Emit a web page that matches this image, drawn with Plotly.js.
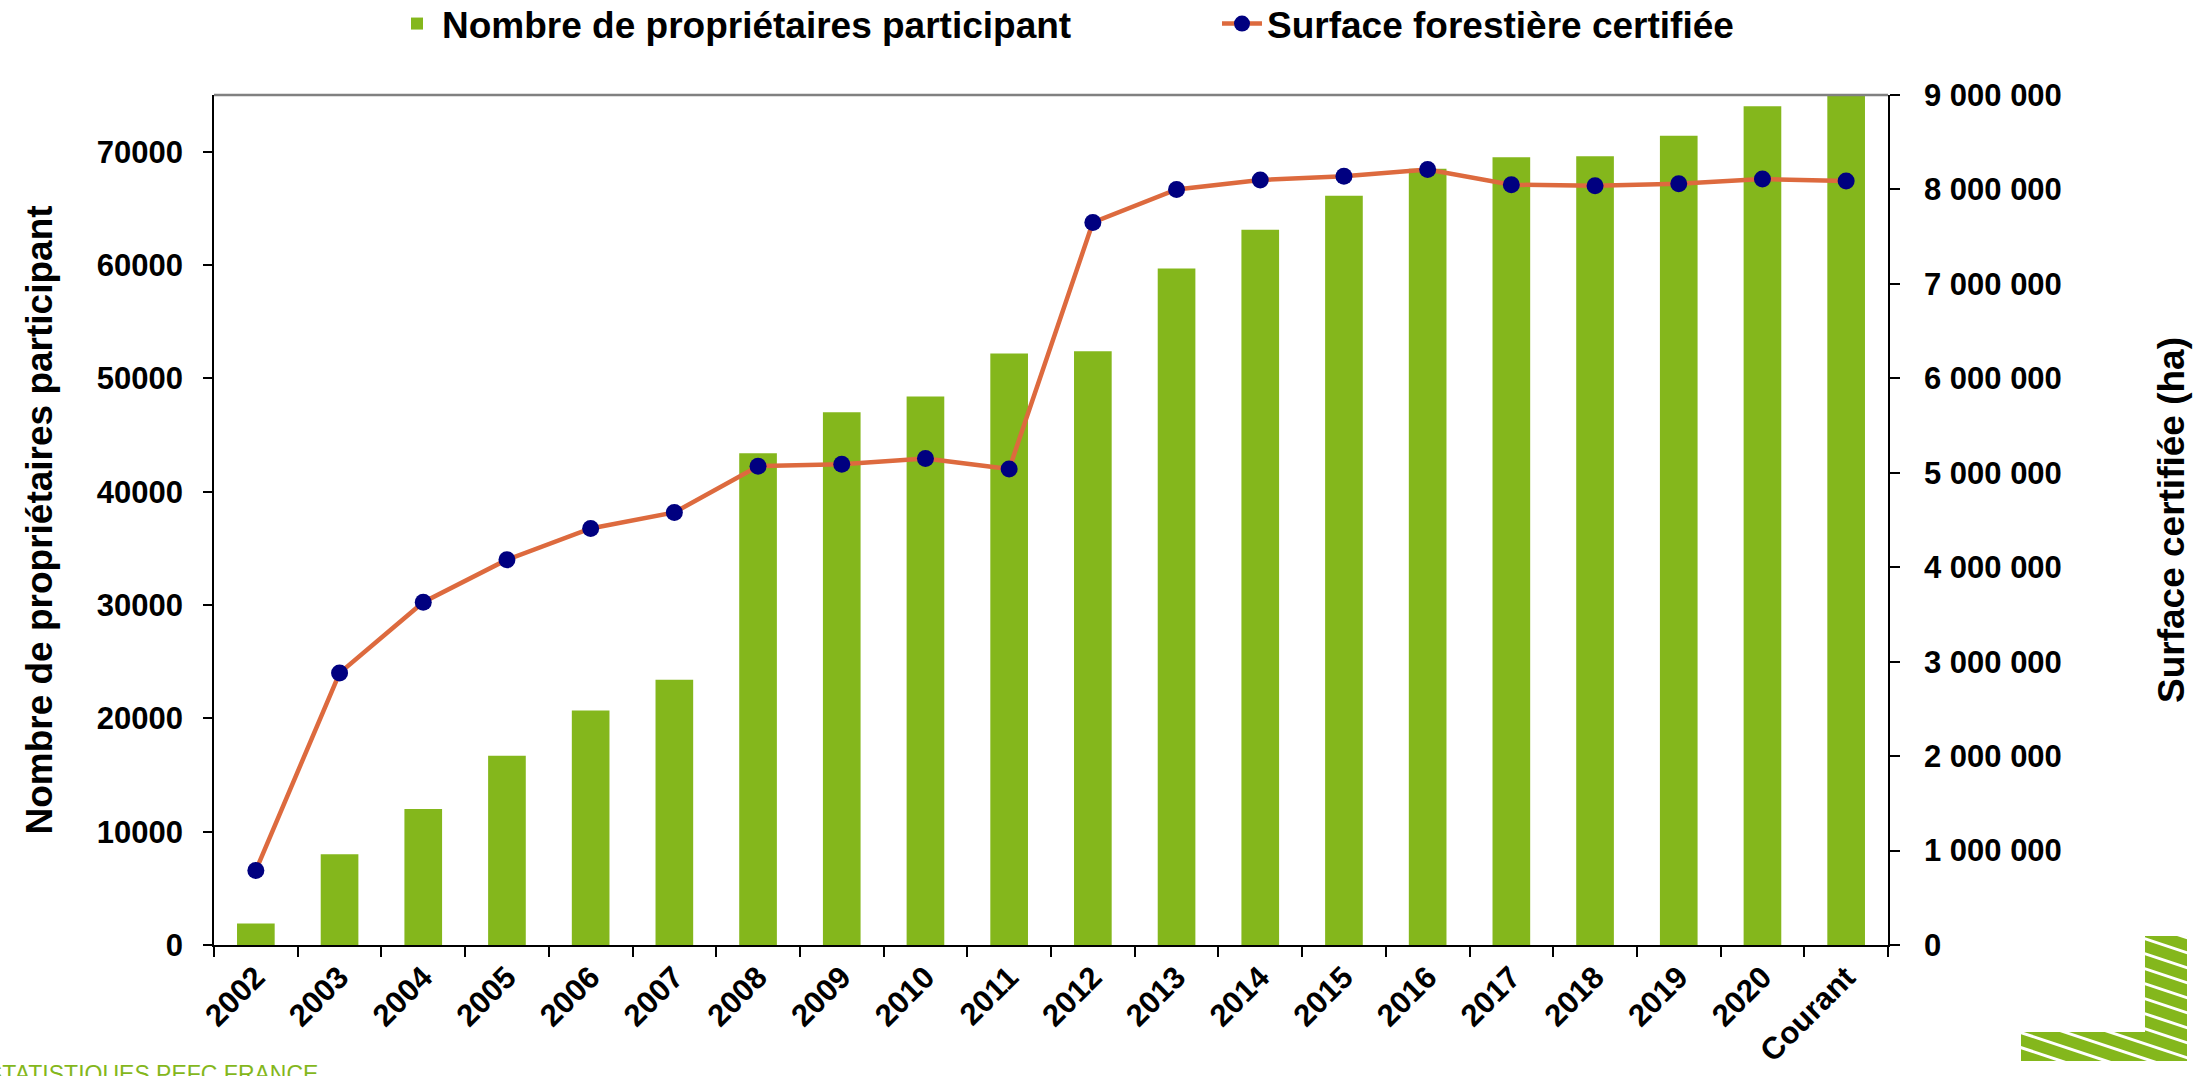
<!DOCTYPE html>
<html><head><meta charset="utf-8">
<script src="https://cdn.plot.ly/plotly-3.0.1.min.js"></script>
<style>html,body{margin:0;padding:0;background:#fff;}#chart{width:2195px;height:1076px;}</style>
</head><body><div id="chart"></div>
<script>
const categories = ["2002","2003","2004","2005","2006","2007","2008","2009","2010","2011","2012","2013","2014","2015","2016","2017","2018","2019","2020","Courant"];
const owners = [1900, 8000, 12000, 16700, 20700, 23400, 43400, 47000, 48400, 52200, 52400, 59700, 63100, 66100, 68500, 69500, 69600, 71400, 74000, 75600];
const surface = [790000, 2880000, 3630000, 4080000, 4410000, 4580000, 5070000, 5090000, 5150000, 5040000, 7650000, 8000000, 8100000, 8140000, 8210000, 8050000, 8040000, 8060000, 8110000, 8090000];
const leftTicks = [0, 10000, 20000, 30000, 40000, 50000, 60000, 70000];
const rightTicks = [0, 1000000, 2000000, 3000000, 4000000, 5000000, 6000000, 7000000, 8000000, 9000000];
const ownersName = "Nombre de propriétaires participant";
const surfaceName = "Surface forestière certifiée";
const leftTitle = "Nombre de propriétaires participant";
const rightTitle = "Surface certifiée (ha)";
const footer = "STATISTIQUES PEFC FRANCE";

const GREEN = "#84b71c";
const FONT = "Liberation Sans, Arial, sans-serif";

// plot area geometry in px
const L = 214, R = 1888, T = 95, B = 945, W = 2195, H = 1076;
const px = x => (x - L) / (R - L);
const py = y => (B - y) / (B - T);

// logo (hatched L shape)
let lines = "";
for (let c = -120; c < 200; c += 15) {
  lines += `<line x1='-20' y1='${c}' x2='200' y2='${c + 73}' stroke='white' stroke-width='3'/>`;
}
const logoSvg = `<svg xmlns='http://www.w3.org/2000/svg' width='167' height='125' viewBox='0 0 167 125'>
<defs><clipPath id='c'><path d='M124,0H166V125H0V96H124Z'/></clipPath></defs>
<g clip-path='url(#c)'><rect x='0' y='0' width='167' height='125' fill='${GREEN}'/>${lines}</g></svg>`;

const traces = [
  {
    type: "bar", x: categories, y: owners, name: ownersName,
    marker: {color: GREEN}, yaxis: "y"
  },
  {
    type: "scatter", mode: "lines+markers", x: categories, y: surface, name: surfaceName,
    yaxis: "y2", line: {color: "#dd6a3e", width: 4.5},
    marker: {color: "#000080", size: 17}
  }
];

const tickFont = {family: FONT, size: 31, color: "#000", weight: "bold"};
const titleFont = {family: FONT, size: 37, color: "#000", weight: "bold"};

const layout = {
  width: W, height: H,
  margin: {l: L, r: W - R, t: T, b: H - B, pad: 0, autoexpand: false},
  paper_bgcolor: "#fff", plot_bgcolor: "#fff",
  separators: ". ",
  bargap: 0.55,
  showlegend: true,
  legend: {
    orientation: "h", x: px(392), xanchor: "left", y: py(-7), yanchor: "top",
    font: {family: FONT, size: 37, color: "#000", weight: "bold"},
    entrywidth: 770, entrywidthmode: "pixels", itemwidth: 40,
    bgcolor: "rgba(0,0,0,0)", traceorder: "normal"
  },
  xaxis: {
    type: "category", showline: true, linecolor: "#000", linewidth: 1.5,
    ticks: "outside", tickson: "boundaries", ticklen: 10, tickcolor: "#000", tickwidth: 1.5,
    tickangle: -45, tickfont: tickFont, showgrid: false, zeroline: false,
    range: [-0.5, 19.5]
  },
  yaxis: {
    range: [0, 75000], tickvals: leftTicks, tickformat: "d",
    showline: true, linecolor: "#000", linewidth: 1.5,
    ticks: "outside", ticklen: 9, tickcolor: "#000", tickwidth: 1.5,
    ticklabelstandoff: 14,
    tickfont: tickFont, showgrid: false, zeroline: false,
    title: {text: leftTitle, font: titleFont, standoff: 33}
  },
  yaxis2: {
    range: [0, 9000000], tickvals: rightTicks, tickformat: ",d",
    overlaying: "y", side: "right",
    showline: true, linecolor: "#000", linewidth: 1.5,
    ticks: "outside", ticklen: 10, tickcolor: "#000", tickwidth: 1.5,
    ticklabelstandoff: 18,
    tickfont: tickFont, showgrid: false, zeroline: false,
    title: {text: rightTitle, font: titleFont, standoff: 97}
  },
  shapes: [
    {type: "line", xref: "paper", yref: "paper", x0: 0, x1: 1, y0: 1, y1: 1,
     line: {color: "#808080", width: 2.5}}
  ],
  annotations: [
    {text: footer, xref: "paper", yref: "paper", x: px(320), xanchor: "right",
     y: py(1059), yanchor: "top", showarrow: false,
     font: {family: FONT, size: 23, color: GREEN}}
  ],
  images: [
    {source: "data:image/svg+xml;charset=utf-8," + encodeURIComponent(logoSvg),
     xref: "paper", yref: "paper", x: px(2021), y: py(936),
     sizex: 167 / (R - L), sizey: 125 / (B - T), xanchor: "left", yanchor: "top",
     sizing: "stretch", layer: "above"}
  ]
};

Plotly.newPlot("chart", traces, layout, {displayModeBar: false, responsive: false});
</script></body></html>
